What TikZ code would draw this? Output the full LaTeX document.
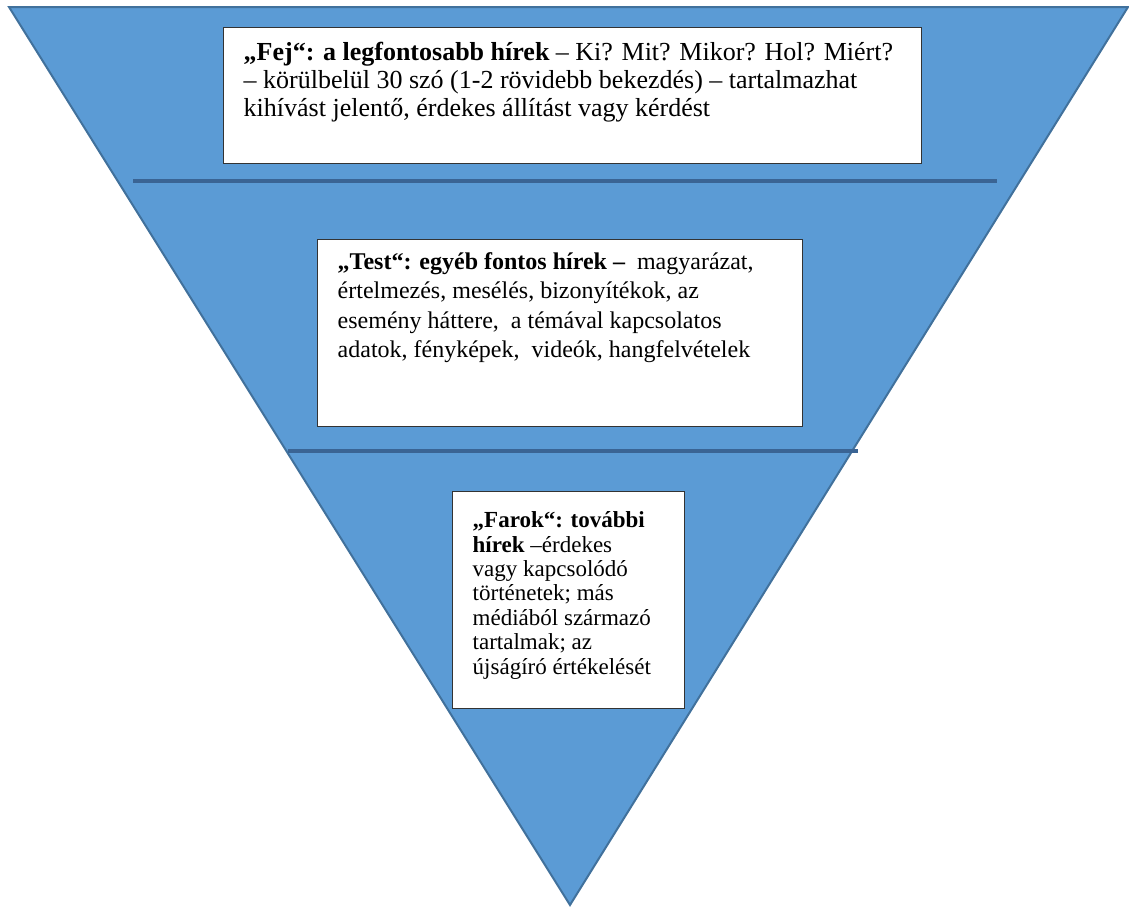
\documentclass[tikz,border=0pt]{standalone}
\usepackage{fontspec}
\setmainfont{Liberation Serif}
\definecolor{piramis}{HTML}{5B9BD5}
\definecolor{piramisszel}{HTML}{41719C}
\definecolor{vonal}{HTML}{3A6494}
\begin{document}
\begin{tikzpicture}[x=0.5pt, y=-0.5pt, font=\fontsize{12}{14.6}\selectfont]
    \tikzstyle{text box}=[draw=black!80, fill=white, line width=0.7pt, anchor=north west, inner xsep=10pt, inner ysep=6.5pt]
    \tikzstyle{level line}=[vonal, line width=2pt]
    \useasboundingbox (0,0) rectangle (1129,906);

    % fordított piramis
    \coordinate (bal) at (9,7);
    \coordinate (jobb) at (1128,7);
    \coordinate (csucs) at (570,905);
    \filldraw[fill=piramis, draw=piramisszel, line width=1pt] (bal) -- (jobb) -- (csucs) -- cycle;

    % szintek
    \coordinate (v1a) at (133,181);
    \coordinate (v1b) at (997,181);
    \coordinate (v2a) at (288,451);
    \coordinate (v2b) at (858,451);
    \draw[level line] (v1a) -- (v1b);
    \draw[level line] (v2a) -- (v2b);

    % szövegdobozok
    \node[text box, inner ysep=7pt] (fej) at (223,27) {\parbox[c][54pt][t]{329pt}{\raggedright\fontsize{13}{14.2}\selectfont
        \textbf{„Fej“: a legfontosabb hírek} – Ki? Mit? Mikor? Hol? Miért?\\
        – körülbelül 30 szó (1-2 rövidebb bekezdés) – tartalmazhat\\
        kihívást jelentő, érdekes állítást vagy kérdést}};
    \node[text box] (test) at (317,239) {\parbox[c][80.5pt][t]{222.5pt}{\raggedright
        \textbf{„Test“: egyéb fontos hírek –}\ \ magyarázat,\\
        értelmezés, mesélés, bizonyítékok, az\\
        esemény háttere,\ \ a témával kapcsolatos\\
        adatok, fényképek,\ \ videók, hangfelvételek}};
    \node[text box, inner ysep=10pt] (farok) at (452,491) {\parbox[c][88.5pt][t]{96pt}{\raggedright\fontsize{11.5}{12.2}\selectfont
        \textbf{„Farok“: további}\\
        \textbf{hírek} –érdekes\\
        vagy kapcsolódó\\
        történetek; más\\
        médiából származó\\
        tartalmak; az\\
        újságíró értékelését}};
\end{tikzpicture}
\end{document}
